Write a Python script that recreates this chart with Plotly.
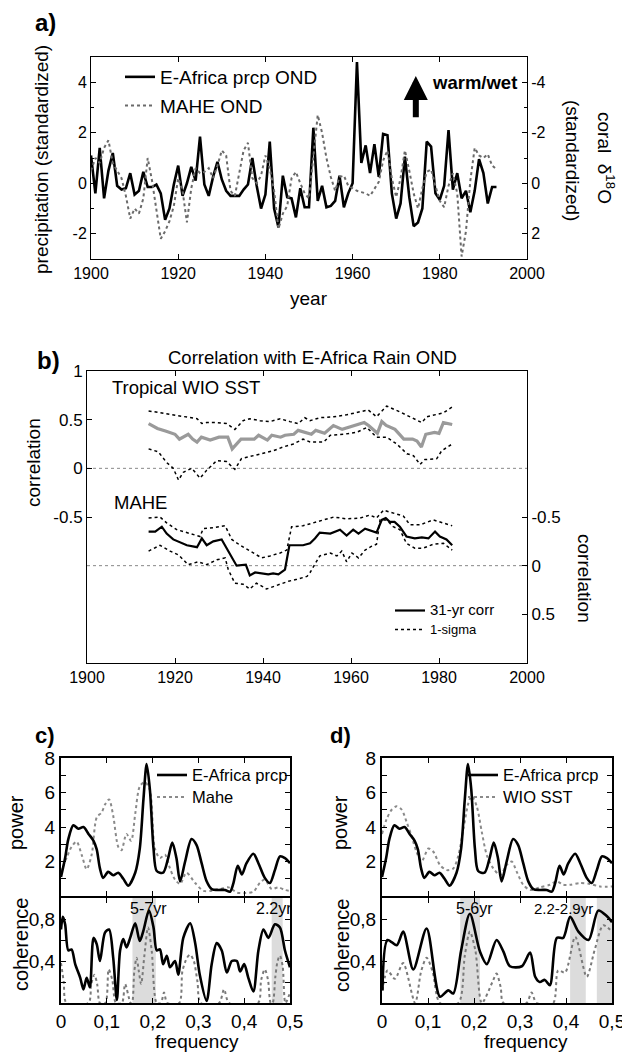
import plotly.graph_objects as go

W, H = 622, 1052
FONT = "Liberation Sans, Arial, sans-serif"

# ---------------- panel a : annual series ----------------
years_a = list(range(1900, 1994))
eafrica_prcp_ond = [1.1, -0.4, 1.4, -0.6, 0.5, 1.2, -0.1, -0.25, -0.2, 0.4,
                    -0.45, -0.3, 0.45, -0.15, -0.15, -0.05, -0.4, -1.45, -1.0, -0.05,
                    0.7, -0.5, 0.0, 0.65, 0.1, 1.85, -0.05, -0.5, 0.25, 0.85,
                    0.15, -0.3, -0.5, -0.5, -0.5, -0.25, -0.05, 1.0, -0.1, -1.0,
                    -0.45, 1.65, -1.0, -1.75, 0.3, -0.55, -0.6, -1.35, -0.2, -0.95,
                    -0.95, 2.2, -0.7, -0.1, -0.95, -0.9, -0.7, 0.3, -0.95, -0.4,
                    0.0, 4.8, 0.8, 1.5, 0.4, 1.55, 0.25, 1.95, 1.9, -0.4,
                    -1.4, -0.8, 1.05, -0.55, -1.7, -1.55, -1.0, 1.65, 1.45, -0.4,
                    -0.65, -0.1, 2.1, -0.25, 0.4, -0.6, -0.3, -1.15, -0.3, 0.95,
                    0.4, -0.8, -0.15, -0.15]
# coral d18O (standardized) -- plotted on the inverted right axis
mahe_d18o_ond = [-0.5, -1.0, -0.8, -1.4, -1.7, -0.8, -0.5, -0.2, 0.5, 1.4,
                 1.0, 1.2, 0.6, -1.0, -0.1, 1.0, 2.2, 1.9, 1.5, 0.9,
                 -0.2, 0.3, 1.55, 0.2, -0.6, -0.4, -0.45, -0.6, -0.2, -0.7,
                 -1.3, -1.1, 0.3, 0.5, -0.4, -1.3, -1.6, -0.2, 0.0, -0.3,
                 -1.1, -0.6, 0.3, 1.8, 1.2, 0.9, -0.2, -0.45, 0.0, 0.4,
                 0.6, -1.2, -2.7, -2.0, -1.0, -0.25, 0.3, -0.25, -0.3, 0.1,
                 0.2, 0.3, 0.35, 0.4, 0.5, 0.2, -0.05, -0.9, -1.3, -0.2,
                 0.55, -0.2, -1.3, -0.5, 0.4, 1.0, 0.2, -0.45, -0.55, 0.1,
                 0.7, 0.95, 0.1, -0.4, 0.4, 2.9, 1.9, -0.1, -1.4, -1.1,
                 -1.0, -1.15, -0.7, -0.55]

# ---------------- panel b : 31-yr running correlations ----------------
wio_years = [1914, 1916, 1918, 1920, 1921, 1923, 1924, 1925, 1926, 1928, 1930, 1932, 1933,
             1935, 1938, 1939, 1941, 1942, 1944, 1945, 1947, 1948, 1951, 1952, 1954, 1956,
             1958, 1960, 1963, 1964, 1966, 1967, 1968, 1970, 1972, 1974, 1975, 1976, 1977,
             1979, 1980, 1981, 1983]
wio_corr = [0.46, 0.41, 0.38, 0.35, 0.30, 0.35, 0.30, 0.27, 0.32, 0.29, 0.32, 0.32, 0.20,
            0.30, 0.30, 0.34, 0.29, 0.34, 0.32, 0.34, 0.35, 0.39, 0.35, 0.39, 0.36, 0.44,
            0.40, 0.43, 0.47, 0.44, 0.36, 0.48, 0.44, 0.40, 0.30, 0.30, 0.28, 0.22, 0.35,
            0.37, 0.36, 0.47, 0.45]
wio_up_years = [1914, 1916.6, 1918.9, 1920.8, 1922.7, 1925, 1926.1, 1927.2, 1929.5, 1931.7,
                1933.6, 1935.5, 1937, 1939.3, 1941.6, 1943.9, 1946.1, 1948, 1949.5, 1950.7,
                1952.9, 1956.1, 1959, 1962.1, 1963.9, 1965.8, 1968.1, 1971.1, 1973.4,
                1976.1, 1977.2, 1979.5, 1981, 1983]
wio_upper = [0.59, 0.57, 0.55, 0.54, 0.52, 0.51, 0.46, 0.47, 0.47, 0.46,
             0.40, 0.49, 0.51, 0.49, 0.48, 0.51, 0.48, 0.46, 0.52, 0.49,
             0.52, 0.53, 0.55, 0.58, 0.60, 0.53, 0.64, 0.58, 0.53,
             0.47, 0.53, 0.55, 0.57, 0.63]
wio_lo_years = [1914, 1916.2, 1918.1, 1919.6, 1920.8, 1921.9, 1923.8, 1925.7, 1927.2, 1929.5,
                1931.7, 1933.6, 1935.1, 1937.7, 1940, 1942.3, 1944.6, 1946.9, 1949.1, 1950.7,
                1953.8, 1955.3, 1958.3, 1961.3, 1963.6, 1965.8, 1968.1, 1970.4, 1972.7,
                1974.2, 1975.7, 1976.8, 1979.5, 1980.6, 1983]
wio_lower = [0.20, 0.17, 0.06, 0.00, -0.12, -0.04, 0.00, -0.10, -0.02, 0.08,
             0.07, -0.01, 0.10, 0.13, 0.16, 0.18, 0.22, 0.25, 0.30, 0.27,
             0.27, 0.34, 0.35, 0.37, 0.42, 0.32, 0.32, 0.25, 0.15,
             0.13, 0.04, 0.09, 0.10, 0.18, 0.25]

mahe_years = [1914, 1915.5, 1917, 1918.1, 1919.6, 1921.1, 1922.7, 1925, 1926.1, 1927.2,
              1928.7, 1930.6, 1932.1, 1934, 1936.1, 1937, 1938.2, 1940, 1941.2, 1942.3,
              1943.5, 1945, 1946, 1949.1, 1950.7, 1951.8, 1952.9, 1955.3, 1957.5, 1959,
              1960.5, 1961.7, 1963.2, 1965.8, 1967, 1967.9, 1968.8, 1969.9, 1971.1, 1972.6,
              1974.5, 1976.1, 1977.6, 1979.1, 1980.2, 1981.7, 1983]
mahe_corr = [-0.35, -0.35, -0.40, -0.33, -0.27, -0.24, -0.21, -0.19, -0.28, -0.21,
             -0.25, -0.27, -0.15, 0.00, -0.01, 0.10, 0.07, 0.08, 0.09, 0.08,
             0.09, 0.04, -0.21, -0.21, -0.23, -0.28, -0.34, -0.33, -0.37, -0.31,
             -0.37, -0.33, -0.38, -0.34, -0.47, -0.49, -0.45, -0.45, -0.40, -0.30,
             -0.28, -0.29, -0.28, -0.35, -0.30, -0.27, -0.21]
mahe_up_years = [1914, 1916.6, 1918.1, 1920.4, 1923.4, 1925.7, 1926.4, 1928.7, 1931.4, 1932.9,
                 1934.8, 1937, 1939.7, 1941.6, 1943.9, 1945.4, 1946.5, 1949.1, 1951.4, 1956.1,
                 1959, 1962.1, 1964.3, 1965.8, 1967.4, 1969.6, 1971.9, 1973.4, 1975.7,
                 1978.7, 1981, 1983]
mahe_upper = [-0.49, -0.50, -0.44, -0.37, -0.33, -0.30, -0.38, -0.39, -0.41, -0.27,
              -0.21, -0.15, -0.08, -0.10, -0.13, -0.16, -0.40, -0.41, -0.44, -0.50,
              -0.48, -0.49, -0.52, -0.49, -0.57, -0.54, -0.51, -0.42, -0.42,
              -0.47, -0.44, -0.41]
mahe_lo_years = [1914, 1916.6, 1918.9, 1920.8, 1923, 1925.3, 1927.2, 1929.5, 1931.4, 1932.1,
                 1933.6, 1935.5, 1937, 1938.5, 1939.7, 1940.8, 1943.9, 1945.8, 1947.7, 1950,
                 1950.7, 1952.9, 1955.3, 1956.8, 1957.9, 1959, 1960.2, 1961.7, 1963.2, 1964.7,
                 1965.8, 1966.6, 1968.1, 1969.6, 1971.1, 1972.6, 1974.5, 1976.4, 1978.7,
                 1981, 1983]
mahe_lower = [-0.15, -0.21, -0.15, -0.11, -0.01, -0.04, -0.01, -0.06, -0.08, 0.04,
              0.18, 0.19, 0.24, 0.18, 0.21, 0.24, 0.19, 0.16, 0.14, 0.11,
              0.07, -0.10, -0.13, -0.10, -0.15, -0.04, -0.13, -0.08, -0.16, -0.20,
              -0.22, -0.47, -0.47, -0.40, -0.37, -0.23, -0.18, -0.18, -0.22,
              -0.23, -0.16]

# ---------------- panels c, d : spectra and coherence ----------------
f_eaf = [0, 0.009, 0.016, 0.027, 0.038, 0.049, 0.060, 0.071, 0.078, 0.085, 0.092, 0.103,
         0.114, 0.125, 0.136, 0.147, 0.162, 0.172, 0.180, 0.187, 0.194, 0.202, 0.209, 0.223,
         0.234, 0.243, 0.252, 0.260, 0.271, 0.285, 0.296, 0.307, 0.318, 0.329, 0.343, 0.358,
         0.369, 0.376, 0.386, 0.395, 0.405, 0.420, 0.431, 0.445, 0.456, 0.467, 0.478, 0.489, 0.5]
pow_eaf = [1.1, 2.2, 3.3, 4.1, 3.9, 4.0, 3.6, 3.2, 2.7, 1.6, 1.05, 1.4,
           1.2, 1.35, 1.0, 0.6, 1.35, 2.75, 5.6, 7.65, 6.2, 2.75, 1.45, 1.35,
           2.2, 3.1, 2.2, 0.85, 2.0, 3.3, 2.95, 1.9, 0.85, 0.4, 0.35, 0.35,
           0.25, 0.7, 1.75, 1.25, 1.9, 2.45, 1.9, 1.05, 0.75, 1.5, 2.3, 2.2, 1.9]

f_mahe = [0, 0.012, 0.023, 0.034, 0.045, 0.056, 0.067, 0.078, 0.089, 0.096, 0.105, 0.114,
          0.125, 0.132, 0.143, 0.153, 0.162, 0.172, 0.183, 0.194, 0.205, 0.216, 0.227, 0.238,
          0.249, 0.260, 0.274, 0.293, 0.311, 0.329, 0.347, 0.366, 0.384, 0.402, 0.420, 0.434,
          0.445, 0.460, 0.474, 0.489, 0.5]
pow_mahe = [1.4, 2.2, 2.85, 3.15, 2.4, 1.55, 2.4, 4.55, 4.85, 5.3, 5.6, 4.65,
            2.85, 2.65, 3.6, 3.2, 4.75, 6.35, 6.6, 6.15, 2.75, 2.2, 2.4, 1.6,
            0.95, 0.7, 1.35, 0.75, 0.3, 0.3, 0.4, 0.5, 0.2, 0.17, 0.25, 0.75,
            0.95, 0.4, 0.5, 0.35, 0.3]

f_wio = [0, 0.010, 0.021, 0.032, 0.043, 0.054, 0.064, 0.075, 0.086, 0.101, 0.112, 0.126,
         0.141, 0.155, 0.166, 0.177, 0.188, 0.195, 0.206, 0.217, 0.228, 0.242, 0.257, 0.271,
         0.282, 0.293, 0.307, 0.322, 0.343, 0.365, 0.380, 0.394, 0.409, 0.430, 0.452, 0.474, 0.5]
pow_wio = [3.6, 4.45, 5.0, 5.2, 5.0, 4.25, 3.5, 2.55, 2.0, 2.75, 2.55, 1.8,
           1.5, 1.6, 2.35, 3.9, 5.4, 5.8, 5.2, 3.7, 2.35, 1.6, 1.2, 1.8,
           2.0, 1.4, 0.65, 0.35, 0.5, 0.65, 0.85, 0.65, 0.65, 0.75, 0.7, 0.55, 0.55]

f_coh_c = [0, 0.004, 0.009, 0.016, 0.023, 0.031, 0.042, 0.049, 0.056, 0.063, 0.071, 0.078,
           0.085, 0.096, 0.105, 0.114, 0.122, 0.129, 0.136, 0.143, 0.151, 0.162, 0.172, 0.180,
           0.192, 0.202, 0.209, 0.216, 0.223, 0.231, 0.238, 0.249, 0.256, 0.267, 0.282, 0.293,
           0.303, 0.318, 0.329, 0.340, 0.351, 0.362, 0.373, 0.384, 0.391, 0.400, 0.409, 0.420,
           0.431, 0.442, 0.453, 0.467, 0.478, 0.489, 0.5]
coh_c = [0.70, 0.82, 0.75, 0.50, 0.51, 0.37, 0.24, 0.13, 0.24, 0.15, 0.62, 0.56,
         0.40, 0.67, 0.70, 0.43, 0.03, 0.50, 0.61, 0.53, 0.62, 0.76, 0.59, 0.69,
         0.88, 0.72, 0.50, 0.51, 0.37, 0.45, 0.34, 0.40, 0.27, 0.62, 0.76, 0.57,
         0.27, 0.02, 0.37, 0.57, 0.50, 0.29, 0.40, 0.40, 0.30, 0.37, 0.24, 0.11,
         0.50, 0.70, 0.62, 0.75, 0.72, 0.50, 0.34]
f_coh2_c = [0, 0.006, 0.012, 0.06, 0.066, 0.073, 0.079, 0.085, 0.097, 0.104, 0.112, 0.12,
            0.133, 0.14, 0.152, 0.155, 0.16, 0.165, 0.17, 0.175, 0.182, 0.19, 0.198, 0.209,
            0.218, 0.225, 0.232, 0.258, 0.265, 0.275, 0.282, 0.29, 0.298, 0.305, 0.345,
            0.356, 0.367, 0.43, 0.437, 0.445, 0.452, 0.458, 0.462, 0.468, 0.473, 0.478,
            0.484, 0.49, 0.5]
coh2_c = [0.38, 0.2, 0, 0, 0.18, 0.27, 0.18, 0, 0, 0.32, 0.22, 0,
          0, 0.18, 0, 0, 0.3, 0.43, 0.3, 0.18, 0.45, 0.72, 0.5, 0,
          0, 0.1, 0, 0, 0.3, 0.43, 0.46, 0.4, 0.2, 0, 0,
          0.13, 0, 0, 0.22, 0.32, 0.22, 0, 0, 0.25, 0.4, 0.45,
          0.35, 0, 0.1]

f_coh_d = [0.001, 0.012, 0.032, 0.046, 0.068, 0.097, 0.126, 0.144, 0.155, 0.172, 0.191,
           0.213, 0.228, 0.249, 0.264, 0.278, 0.304, 0.322, 0.333, 0.343, 0.354, 0.365,
           0.380, 0.394, 0.409, 0.427, 0.449, 0.470, 0.488, 0.5]
coh_d = [0.12, 0.60, 0.55, 0.68, 0.32, 0.71, 0.06, 0.12, 0.09, 0.50, 0.85,
         0.49, 0.37, 0.60, 0.49, 0.35, 0.35, 0.48, 0.25, 0.20, 0.22, 0.17,
         0.62, 0.62, 0.82, 0.68, 0.60, 0.88, 0.83, 0.77]
f_coh2_d = [0.001, 0.012, 0.028, 0.046, 0.072, 0.085, 0.097, 0.11, 0.126, 0.166, 0.18,
            0.191, 0.203, 0.217, 0.24, 0.249, 0.258, 0.264, 0.314, 0.325, 0.336, 0.372,
            0.383, 0.398, 0.42, 0.445, 0.462, 0.481, 0.5]
coh2_d = [0.12, 0.31, 0.23, 0.38, 0, 0.3, 0.43, 0.3, 0, 0, 0.45,
          0.68, 0.5, 0, 0.2, 0.28, 0.15, 0, 0, 0.1, 0, 0,
          0.31, 0.29, 0.63, 0.25, 0.5, 0.74, 0.68]

bands_c = [(0.156, 0.207), (0.46, 0.484)]
bands_d = [(0.17, 0.213), (0.409, 0.443), (0.467, 0.5)]

# ---------------- figure ----------------
def px(x):
    return x / W


def py(y):
    return 1 - y / H


fig = go.Figure()
BLK = "black"
DOT_GRAY = "#6a6a6a"

# panel a
fig.add_trace(go.Scatter(x=years_a, y=eafrica_prcp_ond, xaxis="x", yaxis="y", mode="lines",
                         line=dict(color=BLK, width=2.6), name="E-Africa prcp OND",
                         legend="legend", legendgroup="a1", legendrank=1))
fig.add_trace(go.Scatter(x=years_a, y=mahe_d18o_ond, xaxis="x", yaxis="y2", mode="lines",
                         line=dict(color=DOT_GRAY, width=2, dash="dot"), name="MAHE OND",
                         legend="legend", legendgroup="a2", legendrank=2))

# panel b
dash_b = dict(color=BLK, width=1.5, dash="3px,3px")
fig.add_trace(go.Scatter(x=wio_up_years, y=wio_upper, xaxis="x2", yaxis="y3", mode="lines",
                         line=dash_b, showlegend=False))
fig.add_trace(go.Scatter(x=wio_lo_years, y=wio_lower, xaxis="x2", yaxis="y3", mode="lines",
                         line=dash_b, showlegend=False))
fig.add_trace(go.Scatter(x=wio_years, y=wio_corr, xaxis="x2", yaxis="y3", mode="lines",
                         line=dict(color="#9a9a9a", width=3.2), showlegend=False))
fig.add_trace(go.Scatter(x=mahe_years, y=mahe_corr, xaxis="x2", yaxis="y4", mode="lines",
                         line=dict(color=BLK, width=2.2),
                         name="<span style='font-size:15px'>31-yr corr</span>",
                         legend="legend2", legendrank=1))
fig.add_trace(go.Scatter(x=mahe_up_years, y=mahe_upper, xaxis="x2", yaxis="y4", mode="lines",
                         line=dash_b, name="<span style='font-size:13px'>1-sigma</span>",
                         legend="legend2", legendrank=2))
fig.add_trace(go.Scatter(x=mahe_lo_years, y=mahe_lower, xaxis="x2", yaxis="y4", mode="lines",
                         line=dash_b, showlegend=False))

# panel c
spl = dict(shape="spline", smoothing=0.8)
LEG_CD = "<span style='font-size:16.5px'>%s</span>"
fig.add_trace(go.Scatter(x=f_mahe, y=pow_mahe, xaxis="x3", yaxis="y5", mode="lines",
                         line=dict(color="#8a8a8a", width=2, dash="dot", **spl),
                         name=LEG_CD % "Mahe", legend="legend3", legendrank=2))
fig.add_trace(go.Scatter(x=f_eaf, y=pow_eaf, xaxis="x3", yaxis="y5", mode="lines",
                         line=dict(color=BLK, width=2.6, **spl),
                         name=LEG_CD % "E-Africa prcp", legend="legend3", legendrank=1))
fig.add_trace(go.Scatter(x=f_coh2_c, y=coh2_c, xaxis="x4", yaxis="y6", mode="lines",
                         line=dict(color="#7a7a7a", width=2, dash="dot", **spl),
                         showlegend=False))
fig.add_trace(go.Scatter(x=f_coh_c, y=coh_c, xaxis="x4", yaxis="y6", mode="lines",
                         line=dict(color=BLK, width=2.6, **spl), showlegend=False))

# panel d
fig.add_trace(go.Scatter(x=f_wio, y=pow_wio, xaxis="x5", yaxis="y7", mode="lines",
                         line=dict(color="#8a8a8a", width=2, dash="dot", **spl),
                         name=LEG_CD % "WIO SST", legend="legend4", legendrank=2))
fig.add_trace(go.Scatter(x=f_eaf, y=pow_eaf, xaxis="x5", yaxis="y7", mode="lines",
                         line=dict(color=BLK, width=2.6, **spl),
                         name=LEG_CD % "E-Africa prcp", legend="legend4", legendrank=1))
fig.add_trace(go.Scatter(x=f_coh2_d, y=coh2_d, xaxis="x6", yaxis="y8", mode="lines",
                         line=dict(color="#7a7a7a", width=2, dash="dot", **spl),
                         showlegend=False))
fig.add_trace(go.Scatter(x=f_coh_d, y=coh_d, xaxis="x6", yaxis="y8", mode="lines",
                         line=dict(color=BLK, width=2.6, **spl), showlegend=False))


def ax(**kw):
    base = dict(showline=True, linecolor=BLK, linewidth=1, ticks="inside", tickcolor=BLK,
                ticklen=5, tickwidth=1, showgrid=False, zeroline=False, automargin=False,
                ticklabeloverflow="allow",
                tickfont=dict(size=16, color=BLK, family=FONT))
    base.update(kw)
    return base


years_ticks = [1900, 1920, 1940, 1960, 1980, 2000]
freq_ticks = [0, 0.1, 0.2, 0.3, 0.4, 0.5]
freq_text = ["0", "0,1", "0,2", "0,3", "0,4", "0,5"]
minor_a = dict(tickvals=[-3, -1, 1, 3], ticks="inside", ticklen=3, tickcolor=BLK)
minor_a2 = dict(tickvals=[-5, -3, -1, 1], ticks="inside", ticklen=3, tickcolor=BLK)
minor_p = dict(tickvals=[1, 3, 5, 7], ticks="inside", ticklen=5, tickcolor=BLK)
f19 = dict(size=19, color=BLK, family=FONT)
POW_DOM = [py(896), py(758)]
COH_DOM = [py(1003), py(898)]

layout = dict(
    template="none",
    width=W, height=H, margin=dict(l=0, r=0, t=0, b=0, pad=0, autoexpand=False),
    paper_bgcolor="white", plot_bgcolor="white",
    font=dict(family=FONT, color=BLK),
    # panel a
    xaxis=ax(domain=[px(91), px(527)], anchor="y", range=[1900, 2000], tickvals=years_ticks,
             mirror="ticks"),
    yaxis=ax(domain=[py(259), py(57)], anchor="x", range=[-3, 5], tickvals=[-2, 0, 2, 4],
             ticktext=["-2", "0", "2", "4"], minor=minor_a),
    yaxis2=ax(domain=[py(259), py(57)], anchor="x", overlaying="y", side="right", range=[3, -5],
              tickvals=[-4, -2, 0, 2], ticktext=["-4", "-2", "0", "2"], minor=minor_a2),
    # panel b
    xaxis2=ax(domain=[px(87), px(527)], anchor="y3", range=[1900, 2000], tickvals=years_ticks,
              mirror="ticks"),
    yaxis3=ax(domain=[py(663), py(371)], anchor="x2", range=[-2, 1],
              tickvals=[-0.5, 0, 0.5, 1], ticktext=["-0.5", "0", "0.5", "1"],
              tickfont=dict(size=17, color=BLK, family=FONT)),
    yaxis4=ax(domain=[py(663), py(371)], anchor="x2", overlaying="y3", side="right", range=[1, -2],
              tickvals=[-0.5, 0, 0.5], ticktext=["-0.5", "0", "0.5"],
              tickfont=dict(size=17, color=BLK, family=FONT)),
    # panel c
    xaxis3=ax(domain=[px(61), px(290)], anchor="y5", range=[0, 0.5], tickvals=freq_ticks,
              showticklabels=False, mirror="ticks", linewidth=2),
    yaxis5=ax(domain=POW_DOM, anchor="x3", range=[0, 8], tickvals=[2, 4, 6, 8],
              minor=minor_p, mirror="ticks", linewidth=2, tickfont=f19),
    xaxis4=ax(domain=[px(61), px(290)], anchor="y6", range=[0, 0.5], tickvals=freq_ticks,
              ticktext=freq_text, mirror="ticks", linewidth=2, tickfont=f19),
    yaxis6=ax(domain=COH_DOM, anchor="x4", range=[0, 1],
              tickvals=[0.2, 0.4, 0.6, 0.8], ticktext=["", "0,4", "", "0,8"],
              mirror="ticks", linewidth=2, tickfont=f19),
    # panel d
    xaxis5=ax(domain=[px(382), px(612)], anchor="y7", range=[0, 0.5], tickvals=freq_ticks,
              showticklabels=False, mirror="ticks", linewidth=2),
    yaxis7=ax(domain=POW_DOM, anchor="x5", range=[0, 8], tickvals=[2, 4, 6, 8],
              minor=minor_p, mirror="ticks", linewidth=2, tickfont=f19),
    xaxis6=ax(domain=[px(382), px(612)], anchor="y8", range=[0, 0.5], tickvals=freq_ticks,
              ticktext=freq_text, mirror="ticks", linewidth=2, tickfont=f19),
    yaxis8=ax(domain=COH_DOM, anchor="x6", range=[0, 1],
              tickvals=[0.2, 0.4, 0.6, 0.8], ticktext=["", "0,4", "", "0,8"],
              mirror="ticks", linewidth=2, tickfont=f19),
    legend=dict(x=px(120), y=py(58), xanchor="left", yanchor="top", bgcolor="rgba(0,0,0,0)",
                font=dict(size=19, color=BLK, family=FONT), traceorder="grouped",
                tracegroupgap=1),
    legend2=dict(x=px(390), y=py(596), xanchor="left", yanchor="top", bgcolor="rgba(0,0,0,0)",
                 font=dict(size=12.3, color=BLK, family=FONT), traceorder="normal"),
    legend3=dict(x=px(152), y=py(759), xanchor="left", yanchor="top", bgcolor="rgba(0,0,0,0)",
                 font=dict(size=14.6, color=BLK, family=FONT), traceorder="normal"),
    legend4=dict(x=px(463), y=py(759), xanchor="left", yanchor="top", bgcolor="rgba(0,0,0,0)",
                 font=dict(size=14.6, color=BLK, family=FONT), traceorder="normal"),
)
fig.update_layout(**layout)

shapes = []
# dotted zero lines in panel b
for yref in ("y3", "y4"):
    shapes.append(dict(type="line", xref="x2 domain", yref=yref, x0=0, x1=1, y0=0, y1=0,
                       line=dict(color="#888888", width=1, dash="dot"), layer="below"))
for (a, b) in bands_c:
    shapes.append(dict(type="rect", xref="x4", yref="y6 domain", x0=a, x1=b, y0=0, y1=1,
                       fillcolor="#dcdcdc", line=dict(width=0), layer="below"))
for (a, b) in bands_d:
    shapes.append(dict(type="rect", xref="x6", yref="y8 domain", x0=a, x1=b, y0=0, y1=1,
                       fillcolor="#dcdcdc", line=dict(width=0), layer="below"))
fig.update_layout(shapes=shapes)


def txt(text, x, y, size=19, angle=0, xanchor="center", bold=False):
    if bold:
        text = "<b>" + text + "</b>"
    return dict(text=text, x=px(x), y=py(y), xref="paper", yref="paper", showarrow=False,
                xanchor=xanchor, yanchor="middle", textangle=angle,
                font=dict(size=size, color=BLK, family=FONT))


ann = [
    txt("a)", 33, 22, 24, xanchor="left", bold=True),
    txt("b)", 35, 360, 24, xanchor="left", bold=True),
    txt("c)", 33, 735, 22, xanchor="left", bold=True),
    txt("d)", 328, 735, 22, xanchor="left", bold=True),
    txt("precipitation (standardized)", 42, 160, 19, angle=-90),
    txt("(standardized)", 572, 160, 19, angle=90),
    txt("coral  δ<sup>18</sup>O", 606, 158, 19, angle=90),
    txt("year", 309, 299, 19),
    txt("warm/wet", 430, 83, 18.5, xanchor="left", bold=True),
    txt("Correlation with E-Africa Rain OND", 312, 358, 18.5),
    txt("Tropical WIO SST", 110, 388, 18.5, xanchor="left"),
    txt("MAHE", 112, 502, 18.5, xanchor="left"),
    txt("correlation", 33, 463, 19, angle=-90),
    txt("correlation", 585, 578, 19, angle=90),
    txt("power", 16, 823, 20, angle=-90),
    txt("coherence", 21, 945, 20, angle=-90),
    txt("frequency", 197, 1041, 19),
    txt("power", 340, 823, 20, angle=-90),
    txt("coherence", 342, 945, 20, angle=-90),
    txt("frequency", 526, 1041, 19),
    txt("5-7yr", 148, 908, 16),
    txt("2.2yr", 274, 908, 16),
    txt("5-6yr", 474, 908, 16),
    txt("2.2-2.9yr", 563, 908, 15),
    dict(x=1974.5, y=4.25, xref="x", yref="y", ax=1974.5, ay=2.55, axref="x", ayref="y",
         text="", showarrow=True, arrowhead=2, arrowsize=0.8, arrowwidth=6, arrowcolor=BLK),
]
fig.update_layout(annotations=ann)

fig.write_html("out.html", config={"displayModeBar": False},
               post_script="document.body.style.margin='0px';")
